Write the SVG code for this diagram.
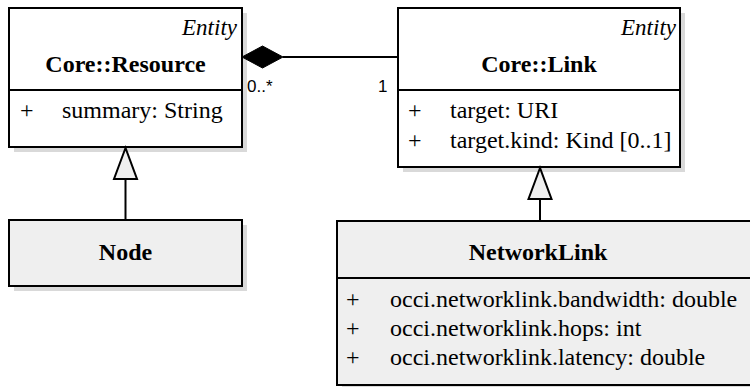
<svg xmlns="http://www.w3.org/2000/svg" width="750" height="387" viewBox="0 0 750 387">
<style>
.box{stroke:#000;stroke-width:2}
.w{fill:#fff}
.g{fill:#efefef}
.sh{fill:#d9d9d9}
.div{stroke:#000;stroke-width:2}
.t{font-family:'Liberation Serif','DejaVu Serif',serif;font-size:24px;fill:#000}
.it{font-style:italic;text-anchor:end;font-size:23px}
.b{font-weight:bold;text-anchor:middle}
.m{font-family:'Liberation Sans','DejaVu Sans',sans-serif;font-size:17px;fill:#000}
.ln{stroke:#000;stroke-width:2;fill:none}
</style>
<rect width="750" height="387" fill="#fff"/>
<g id="resource">
<rect class="sh" x="14" y="13" width="233" height="139"/>
<rect class="box w" x="9" y="8" width="233" height="139"/>
<line class="div" x1="9" y1="90" x2="242" y2="90"/>
<text class="t it" x="237" y="35">Entity</text>
<text class="t b" x="125.5" y="72">Core::Resource</text>
<text class="t" x="20" y="118">+</text>
<text class="t" x="62" y="118">summary: String</text>
</g>
<g id="link">
<rect class="sh" x="403" y="13" width="282" height="159"/>
<rect class="box w" x="398" y="8" width="282" height="159"/>
<line class="div" x1="398" y1="90" x2="680" y2="90"/>
<text class="t it" x="676" y="35">Entity</text>
<text class="t b" x="539" y="72">Core::Link</text>
<text class="t" x="408" y="118">+</text>
<text class="t" x="450" y="118">target: URI</text>
<text class="t" x="408" y="148">+</text>
<text class="t" x="450" y="148">target.kind: Kind [0..1]</text>
</g>
<g id="node">
<rect class="sh" x="14" y="225" width="233" height="66"/>
<rect class="box g" x="9" y="220" width="233" height="66"/>
<text class="t b" x="125.5" y="260">Node</text>
</g>
<g id="networklink">
<rect class="sh" x="342" y="226" width="420" height="164"/>
<rect class="box g" x="337" y="221" width="420" height="164"/>
<line class="div" x1="337" y1="278" x2="757" y2="278"/>
<text class="t b" x="538" y="260">NetworkLink</text>
<text class="t" x="346" y="307">+</text>
<text class="t" x="390" y="307">occi.networklink.bandwidth: double</text>
<text class="t" x="346" y="336">+</text>
<text class="t" x="390" y="336">occi.networklink.hops: int</text>
<text class="t" x="346" y="365">+</text>
<text class="t" x="390" y="365">occi.networklink.latency: double</text>
</g>
<g id="connectors">
<line class="ln" x1="283" y1="57" x2="398" y2="57"/>
<polygon points="242,57 262.5,46 283,57 262.5,68" fill="#000" stroke="#000" stroke-width="1"/>
<text class="m" x="247" y="92">0..*</text>
<text class="m" x="378" y="92">1</text>
<line class="ln" x1="125.5" y1="179" x2="125.5" y2="220"/>
<polygon points="125.5,148 114,179 137,179" fill="#efefef" stroke="#000" stroke-width="2"/>
<line class="ln" x1="540" y1="199" x2="540" y2="221"/>
<polygon points="540,168 528.5,199 551.5,199" fill="#efefef" stroke="#000" stroke-width="2"/>
</g>
</svg>
